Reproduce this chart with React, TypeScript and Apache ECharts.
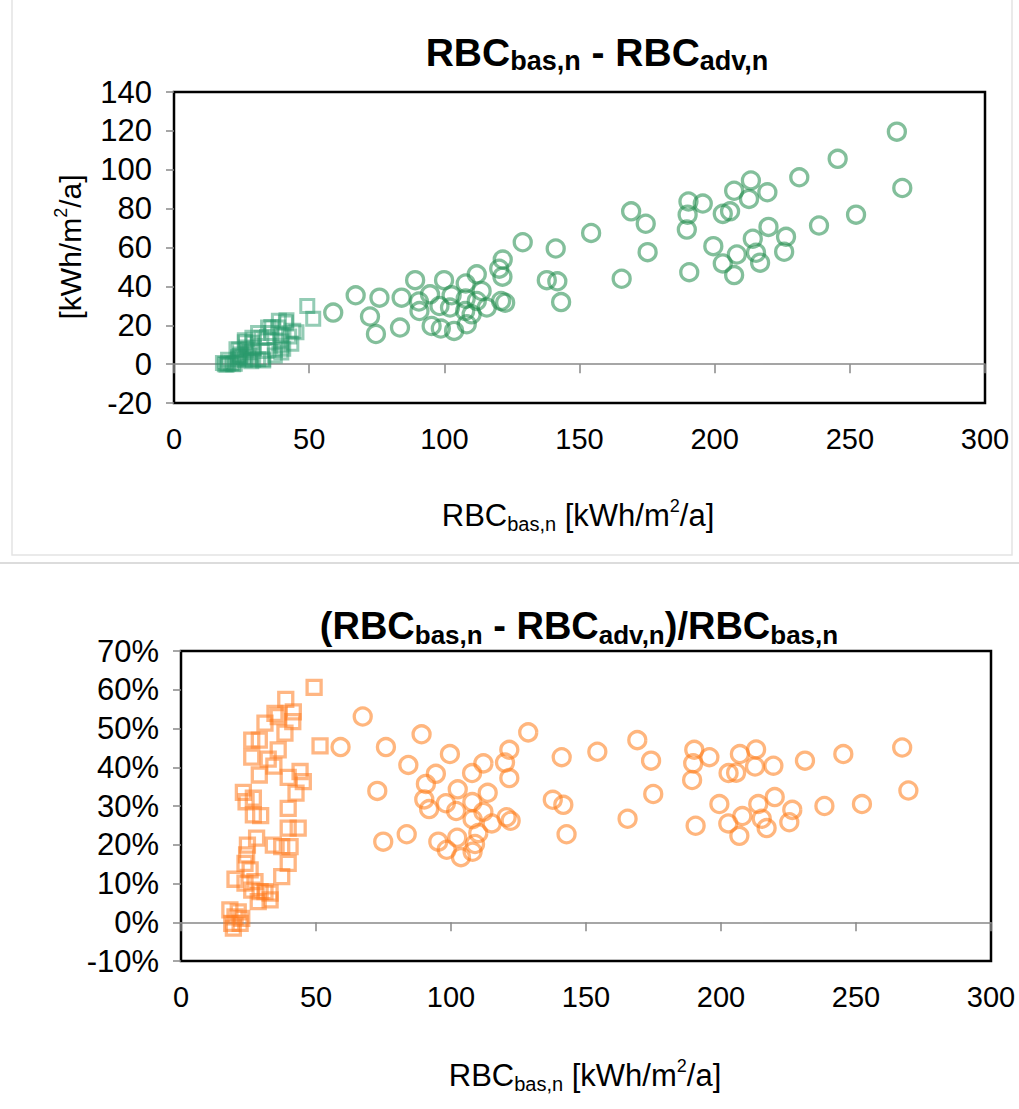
import React, { useEffect, useRef } from "react";
import * as echarts from "echarts";

const FONT = '"Liberation Sans", Arial, Helvetica, sans-serif';

// Axis ranges / ticks
const xTicks = [0, 50, 100, 150, 200, 250, 300];
const topYTicks = [-20, 0, 20, 40, 60, 80, 100, 120, 140];
const bottomYTicks = [-10, 0, 10, 20, 30, 40, 50, 60, 70];

// Top chart: circles (RBC_bas,n, RBC_bas,n - RBC_adv,n)
const topCircleX = [
  58.9, 67.2, 72.5, 74.7, 76.0, 83.6, 84.2, 89.2, 90.6, 90.8, 94.7, 98.2, 95.3, 98.7, 99.9, 102.7, 102.1, 103.6,
  107.9, 107.9, 107.7, 108.3, 110.1, 112.0, 113.8, 112.0, 115.7, 120.3, 121.6, 121.5, 121.0, 122.5, 129.0, 137.9,
  141.8, 143.2, 141.2, 154.3, 165.6, 169.1, 174.5, 175.2, 189.7, 190.0, 190.3, 190.6, 195.6, 199.5, 203.0, 205.7,
  203.0, 207.2, 207.2, 208.2, 213.4, 212.7, 219.5, 214.1, 215.3, 216.8, 219.9, 226.4, 225.7, 231.3, 238.6, 245.5,
  252.3, 267.4, 269.4,
];
const topCircleY = [
  26.5, 35.4, 24.5, 15.5, 34.2, 18.8, 34.2, 43.2, 32.2, 27.3, 35.9, 29.9, 19.6, 18.3, 43.2, 35.4, 29.1, 17.1,
  41.5, 33.7, 27.3, 20.5, 25.6, 46.2, 37.6, 32.5, 29.1, 49.1, 53.8, 45.0, 32.5, 31.6, 62.7, 43.2,
  42.6, 31.9, 59.5, 67.5, 43.9, 78.6, 72.2, 57.6, 69.2, 76.9, 83.7, 47.3, 82.6, 60.7, 77.3, 78.6,
  51.8, 89.2, 45.8, 56.4, 94.5, 85.0, 88.4, 64.5, 57.3, 52.2, 70.6, 65.5, 57.8, 96.1, 71.3, 105.6,
  76.9, 119.6, 90.6,
];

// Top chart: squares
const topSquareX = [
  49.3, 51.5, 38.8, 41.6, 34.8, 31.1, 36.0, 41.4, 38.5, 29.0, 26.2, 36.0, 26.2, 32.3, 34.4, 29.0, 39.7, 44.1,
  45.3, 42.6, 23.1, 26.8, 24.1, 26.8, 29.5, 39.7, 28.0, 24.6, 39.7, 43.4, 34.2, 37.3, 40.4, 39.7, 37.3, 24.3,
  23.7, 25.6, 20.0, 23.7, 27.4, 26.2, 29.3, 33.0, 33.0, 28.6, 31.1, 18.1, 20.0, 21.9, 18.8, 19.4, 21.2, 22.5,
];
const topSquareY = [
  29.9, 23.4, 22.3, 22.6, 18.8, 16.0, 19.1, 21.4, 18.8, 13.6, 12.3, 16.0, 11.2, 13.6, 13.9, 11.0, 14.8, 17.2,
  16.4, 14.2, 7.7, 8.6, 7.5, 7.4, 8.1, 11.7, 6.1, 4.9, 9.6, 10.5, 6.8, 7.3, 7.9, 6.0, 4.4, 4.2,
  3.6, 3.5, 2.2, 2.4, 2.9, 2.2, 2.3, 2.5, 1.9, 1.5, 2.5, 0.6, 0.3, -0.1, -0.1, -0.3, 0.6, 0.2,
];

// Bottom chart: circles (RBC_bas,n, ratio in %)
const bottomCircleX = [
  67.3, 59.1, 75.9, 89.1, 84.2, 72.7, 74.9, 83.6, 99.6, 94.4, 90.7, 90.1, 91.9, 98.1, 101.9, 102.5, 107.8, 112.0,
  107.9, 113.6, 112.0, 108.0, 115.1, 110.1, 95.3, 102.3, 98.4, 103.7, 108.9, 108.0, 121.6, 120.0, 121.6, 120.6,
  122.1, 128.6, 141.0, 137.7, 141.6, 142.8, 154.2, 165.4, 169.0, 174.1, 174.9, 190.1, 189.7, 189.3, 195.7, 190.6,
  199.4, 202.8, 205.6, 202.7, 207.0, 213.0, 212.6, 219.4, 207.9, 206.8, 213.8, 215.1, 216.9, 219.9, 226.4, 225.3,
  231.1, 238.3, 245.3, 252.2, 267.1, 269.4,
];
const bottomCircleR = [
  53.1, 45.2, 45.2, 48.5, 40.6, 33.9, 20.8, 22.7, 43.4, 38.3, 35.7, 31.7, 29.2, 30.7, 28.7, 34.3, 38.5, 41.0,
  31.0, 33.4, 28.5, 26.6, 25.5, 23.0, 20.8, 21.8, 18.7, 16.8, 20.2, 18.2, 44.5, 41.2, 37.2, 27.1,
  26.2, 49.0, 42.6, 31.6, 30.3, 22.7, 44.0, 26.7, 47.0, 41.7, 33.1, 44.5, 41.0, 36.7, 42.6, 24.9,
  30.5, 38.5, 38.6, 25.5, 43.4, 44.6, 40.2, 40.4, 27.4, 22.3, 30.5, 26.7, 24.3, 32.3, 29.0, 25.8,
  41.7, 30.0, 43.4, 30.5, 45.1, 34.0,
];

// Bottom chart: squares
const bottomSquareX = [
  49.3, 51.5, 38.8, 41.6, 34.8, 31.1, 36.0, 41.4, 38.5, 29.0, 26.2, 36.0, 26.2, 32.3, 34.4, 29.0, 39.7, 44.1,
  45.3, 42.6, 23.1, 26.8, 24.1, 26.8, 29.5, 39.7, 28.0, 24.6, 39.7, 43.4, 34.2, 37.3, 40.4, 39.7, 37.3, 24.3,
  23.7, 25.6, 20.0, 23.7, 27.4, 26.2, 29.3, 33.0, 33.0, 28.6, 31.1, 18.1, 20.0, 21.9, 18.8, 19.4, 21.2, 22.5,
];
const bottomSquareR = [
  60.6, 45.5, 57.5, 54.3, 53.9, 51.4, 53.1, 51.8, 48.8, 47.0, 47.0, 44.5, 42.6, 42.1, 40.3, 38.0, 37.4, 38.9,
  36.3, 33.3, 33.5, 32.0, 31.1, 27.7, 27.5, 29.4, 21.7, 19.9, 24.3, 24.3, 19.9, 19.5, 19.5, 15.2, 11.8, 17.4,
  15.2, 13.5, 11.1, 10.1, 10.5, 8.3, 7.9, 7.5, 5.8, 5.3, 7.9, 3.2, 1.4, -0.3, -0.3, -1.5, 2.7, 1.0,
];

const pairs = (xs: number[], ys: number[]) => xs.map((x, i) => [x, ys[i]]);

const GREEN_C = "#1E8A48";
const GREEN_S = "#2A9A6C";
const ORANGE_C = "#FF7A14";
const ORANGE_S = "#FF7A1E";

const mainRich = (size: number, sub: number, sup: number, bold: boolean) => ({
  m: { fontSize: size, fontFamily: FONT, fontWeight: bold ? "bold" : "normal", color: "#000", lineHeight: size + 6, verticalAlign: "middle" },
  s: { fontSize: sub, fontFamily: FONT, fontWeight: bold ? "bold" : "normal", color: "#000", lineHeight: sub + 1, verticalAlign: "bottom" },
  p: { fontSize: sup, fontFamily: FONT, fontWeight: bold ? "bold" : "normal", color: "#000", lineHeight: sup, verticalAlign: "top" },
});

function buildOption() {
  const yAxisCommon = (min: number, max: number, interval: number, fmt: string) => ({
    type: "value",
    min,
    max,
    interval,
    axisLine: { show: false },
    axisTick: { show: true, length: 8, lineStyle: { color: "#888", width: 1.5 } },
    splitLine: { show: false },
    axisLabel: { fontSize: 31, fontFamily: FONT, color: "#000", margin: 22, formatter: fmt },
  });
  const xLabelAxis = (gridIndex: number) => ({
    type: "value",
    gridIndex,
    min: xTicks[0],
    max: xTicks[xTicks.length - 1],
    interval: xTicks[1] - xTicks[0],
    position: "bottom",
    axisLine: { show: false, onZero: false },
    axisTick: { show: false },
    splitLine: { show: false },
    axisLabel: { fontSize: 29, fontFamily: FONT, color: "#000", margin: 21 },
  });
  const xZeroAxis = (gridIndex: number) => ({
    type: "value",
    gridIndex,
    min: xTicks[0],
    max: xTicks[xTicks.length - 1],
    interval: xTicks[1] - xTicks[0],
    position: "bottom",
    axisLine: { show: true, onZero: true, lineStyle: { color: "#888", width: 1.5 } },
    axisTick: { show: true, length: 9, lineStyle: { color: "#888", width: 1.5 } },
    splitLine: { show: false },
    axisLabel: { show: false },
  });

  const ring = (color: string, w: number, op: number) => ({
    color: "rgba(255,255,255,0)",
    borderColor: color,
    borderWidth: w,
    opacity: op,
  });

  return {
    animation: false,
    backgroundColor: "#fff",
    grid: [
      { left: 174, top: 92, width: 811, height: 311, show: true, borderColor: "#000", borderWidth: 2.5, backgroundColor: "rgba(0,0,0,0)" },
      { left: 181, top: 651, width: 810, height: 310, show: true, borderColor: "#000", borderWidth: 2.5, backgroundColor: "rgba(0,0,0,0)" },
    ],
    xAxis: [xLabelAxis(0), xZeroAxis(0), xLabelAxis(1), xZeroAxis(1)],
    yAxis: [
      { ...yAxisCommon(topYTicks[0], topYTicks[topYTicks.length - 1], 20, "{value}"), gridIndex: 0 },
      { ...yAxisCommon(bottomYTicks[0], bottomYTicks[bottomYTicks.length - 1], 10, "{value}%"), gridIndex: 1 },
    ],
    series: [
      {
        type: "scatter",
        xAxisIndex: 0,
        yAxisIndex: 0,
        symbol: "rect",
        symbolSize: 13,
        itemStyle: ring(GREEN_S, 3, 0.5),
        data: pairs(topSquareX, topSquareY),
      },
      {
        type: "scatter",
        xAxisIndex: 0,
        yAxisIndex: 0,
        symbol: "circle",
        symbolSize: 17,
        itemStyle: ring(GREEN_C, 3.3, 0.55),
        data: pairs(topCircleX, topCircleY),
      },
      {
        type: "scatter",
        xAxisIndex: 2,
        yAxisIndex: 1,
        symbol: "rect",
        symbolSize: 14,
        itemStyle: ring(ORANGE_S, 3.3, 0.55),
        data: pairs(bottomSquareX, bottomSquareR),
      },
      {
        type: "scatter",
        xAxisIndex: 2,
        yAxisIndex: 1,
        symbol: "circle",
        symbolSize: 17,
        itemStyle: ring(ORANGE_C, 3.3, 0.55),
        data: pairs(bottomCircleX, bottomCircleR),
      },
    ],
    graphic: [
      {
        type: "rect",
        shape: { x: 12, y: -4, width: 1000, height: 559 },
        style: { fill: "none", stroke: "#e4e4e4", lineWidth: 1.5 },
        silent: true,
      },
      {
        type: "line",
        shape: { x1: 0, y1: 563, x2: 1019, y2: 563 },
        style: { stroke: "#dcdcdc", lineWidth: 2 },
        silent: true,
      },
      {
        type: "text",
        x: 597,
        y: 52,
        style: {
          text: "{m|RBC}{s|bas,n}{m| - RBC}{s|adv,n}",
          rich: mainRich(39, 27, 20, true),
          align: "center",
          verticalAlign: "middle",
        },
      },
      {
        type: "text",
        x: 578,
        y: 515,
        style: {
          text: "{m|RBC}{s|bas,n}{m| [kWh/m}{p|2}{m|/a]}",
          rich: mainRich(31, 20, 18, false),
          align: "center",
          verticalAlign: "middle",
        },
      },
      {
        type: "text",
        x: 70,
        y: 247,
        rotation: Math.PI / 2,
        style: {
          text: "{m|[kWh/m}{p|2}{m|/a]}",
          rich: mainRich(30, 18, 18, false),
          align: "center",
          verticalAlign: "middle",
        },
      },
      {
        type: "text",
        x: 579,
        y: 626,
        style: {
          text: "{m|(RBC}{s|bas,n}{m| - RBC}{s|adv,n}{m|)/RBC}{s|bas,n}",
          rich: mainRich(38, 26, 20, true),
          align: "center",
          verticalAlign: "middle",
        },
      },
      {
        type: "text",
        x: 585,
        y: 1075,
        style: {
          text: "{m|RBC}{s|bas,n}{m| [kWh/m}{p|2}{m|/a]}",
          rich: mainRich(31, 20, 18, false),
          align: "center",
          verticalAlign: "middle",
        },
      },
    ],
  };
}

export default function App() {
  const ref = useRef<HTMLDivElement>(null);
  useEffect(() => {
    if (!ref.current) return;
    const chart = echarts.init(ref.current, undefined, { renderer: "svg" });
    chart.setOption(buildOption() as any);
    return () => chart.dispose();
  }, []);
  return (
    <div
      ref={ref}
      style={{ position: "absolute", left: 0, top: 0, width: 1019, height: 1109, background: "#fff" }}
    />
  );
}
